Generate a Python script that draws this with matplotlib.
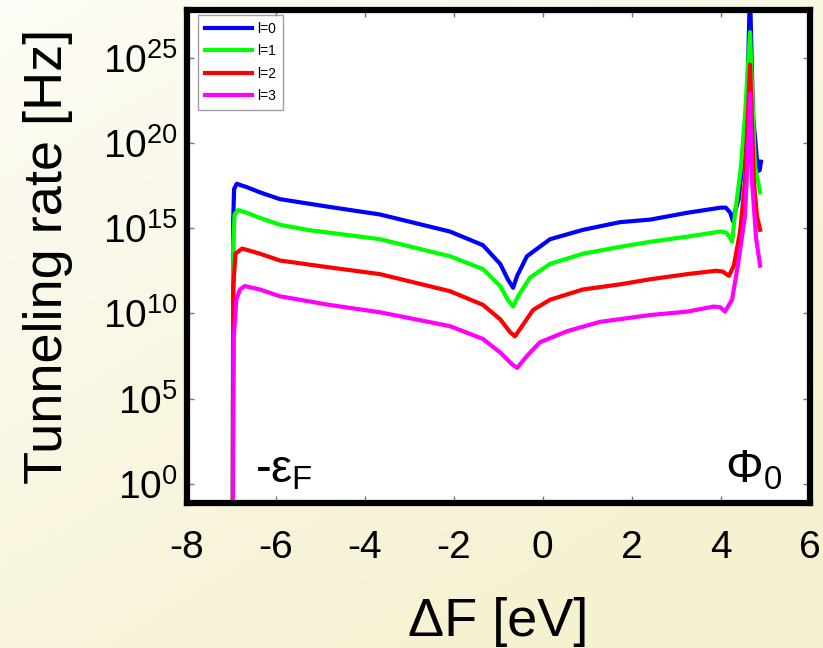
import matplotlib
matplotlib.use("Agg")
import matplotlib.pyplot as plt
import numpy as np

# egriler: log10(oran) degerleri
x_l0 = [-6.96, -6.95, -6.93, -6.87, -6.64, -6.35, -5.9, -4.8, -3.65, -2.08, -1.34, -0.95, -0.78, -0.66,
        -0.57, -0.35, 0.17, 0.91, 1.74, 2.42, 3.25, 4.0, 4.12, 4.22, 4.28, 4.33, 4.41, 4.52, 4.6, 4.663,
        4.73, 4.8, 4.84, 4.88, 4.91]
y_l0 = [-3, 15.5, 17.3, 17.6, 17.4, 17.1, 16.7, 16.25, 15.8, 14.8, 14.0, 12.9, 12.0, 11.5,
        12.2, 13.35, 14.35, 14.9, 15.35, 15.5, 15.9, 16.2, 16.2, 15.9, 15.4, 16.0, 16.7, 19.6, 22.6, 29.0,
        21.6, 19.6, 18.35, 18.4, 18.9]

x_l1 = [-6.96, -6.95, -6.92, -6.84, -6.64, -6.35, -5.9, -5.29, -3.65, -2.08, -1.34, -0.95, -0.78, -0.66,
        -0.55, -0.28, 0.17, 0.91, 1.74, 2.42, 3.25, 4.0, 4.12, 4.2, 4.26, 4.32, 4.46, 4.55, 4.663,
        4.775, 4.89]
y_l1 = [-3, 14.0, 15.8, 16.06, 15.9, 15.6, 15.2, 14.9, 14.35, 13.35, 12.6, 11.6, 10.8, 10.4,
        11.0, 12.1, 12.9, 13.5, 13.9, 14.2, 14.5, 14.8, 14.75, 14.5, 14.2, 15.7, 18.6, 21.6, 26.5,
        18.65, 17.1]

x_l2 = [-6.96, -6.95, -6.9, -6.75, -6.35, -5.9, -4.8, -3.65, -2.08, -1.34, -0.95, -0.73, -0.62,
        -0.46, -0.21, 0.17, 0.91, 1.74, 2.42, 3.25, 3.9, 4.05, 4.19, 4.3, 4.44, 4.55, 4.663,
        4.75, 4.82, 4.89]
y_l2 = [-3, 11.5, 13.5, 13.8, 13.5, 13.1, 12.7, 12.3, 11.3, 10.5, 9.65, 8.9, 8.65,
        9.25, 10.2, 10.8, 11.4, 11.7, 12.0, 12.3, 12.5, 12.45, 12.2, 12.8, 14.8, 17.7, 24.6,
        17.7, 15.7, 14.9]

x_l3 = [-6.96, -6.94, -6.88, -6.8, -6.69, -6.35, -5.9, -4.8, -3.65, -2.08, -1.34, -0.95, -0.68,
        -0.57, -0.35, -0.06, 0.55, 1.29, 2.42, 3.25, 3.85, 4.0, 4.1, 4.26, 4.39, 4.55, 4.62, 4.663,
        4.71, 4.8, 4.89]
y_l3 = [-3, 8.5, 10.8, 11.4, 11.6, 11.4, 11.0, 10.5, 10.06, 9.25, 8.5, 7.7, 7.0,
        6.8, 7.5, 8.3, 8.95, 9.5, 9.9, 10.1, 10.4, 10.35, 10.1, 10.8, 12.8, 15.7, 19.6, 22.9,
        17.7, 14.4, 12.8]

etiketler = ["l=0", "l=1", "l=2", "l=3"]
renkler = ["#0000ff", "#00ff00", "#ff0000", "#ff00ff"]

plt.rcParams["font.family"] = ["Liberation Sans", "DejaVu Sans"]
plt.rcParams["mathtext.fontset"] = "custom"
plt.rcParams["mathtext.rm"] = "Liberation Sans"
plt.rcParams["mathtext.it"] = "Liberation Sans"
plt.rcParams["mathtext.bf"] = "Liberation Sans:bold"

fig = plt.figure(figsize=(8.23, 6.48), dpi=100)

# arka plan: acik krem -> sari gecis
bg = fig.add_axes([0, 0, 1, 1], zorder=-10)
yy, xx = np.mgrid[0:1:200j, 0:1:200j]
t = np.clip((xx * 0.6 + yy * 0.8) / 1.2, 0, 1)
c0 = np.array([253, 252, 246]) / 255
c1 = np.array([246, 241, 208]) / 255
grad = c0[None, None, :] * (1 - t[..., None]) + c1[None, None, :] * t[..., None]
bg.imshow(grad, extent=[0, 1, 0, 1], aspect="auto", origin="upper")
bg.axis("off")

ax = fig.add_axes([186.5 / 823, 1 - 502.5 / 648, 623 / 823, 492.5 / 648])
ax.set_facecolor("white")

seriler = [(x_l0, y_l0), (x_l1, y_l1), (x_l2, y_l2), (x_l3, y_l3)]
for (xs, ys), lab, c in zip(seriler, etiketler, renkler):
    ax.plot(xs, 10.0 ** np.array(ys), color=c, lw=3, label=lab)

ax.set_yscale("log")
ax.set_xlim(-8, 6)
ax.set_ylim(10 ** -1.1, 10 ** 27.8)
ax.set_xticks([-8, -6, -4, -2, 0, 2, 4, 6])
ax.set_xticklabels(["-8", "-6", "-4", "-2", "0", "2", "4", "6"])
ax.set_yticks([1e0, 1e5, 1e10, 1e15, 1e20, 1e25])
ax.set_yticklabels([r"$10^{0}$", r"$10^{5}$", r"$10^{10}$", r"$10^{15}$", r"$10^{20}$", r"$10^{25}$"])
ax.minorticks_off()
ax.tick_params(axis="both", direction="in", length=5, width=1, color="#777777",
               top=True, right=True, labelsize=28)
ax.tick_params(axis="x", pad=20)
ax.tick_params(axis="y", pad=6)
for s in ax.spines.values():
    s.set_linewidth(4.5)

ax.set_xlabel("ΔF [eV]", fontsize=39, labelpad=22)
ax.set_ylabel("Tunneling rate [Hz]", fontsize=39, labelpad=22)

ax.text(0.11, 0.02, r"-$\varepsilon_{\mathrm{F}}$", transform=ax.transAxes, fontsize=34,
        ha="left", va="bottom")
ax.text(0.865, 0.02, r"$\Phi_{0}$", transform=ax.transAxes, fontsize=34,
        ha="left", va="bottom")

leg = ax.legend(loc="upper left", bbox_to_anchor=(0.018, 0.99), borderaxespad=0, fontsize=10,
                handlelength=3.4, frameon=True, fancybox=False,
                labelspacing=0.6, handletextpad=0.4, borderpad=0.5)
leg.get_frame().set_edgecolor("#888888")
leg.get_frame().set_linewidth(1)

fig.savefig("out.png", dpi=100)
